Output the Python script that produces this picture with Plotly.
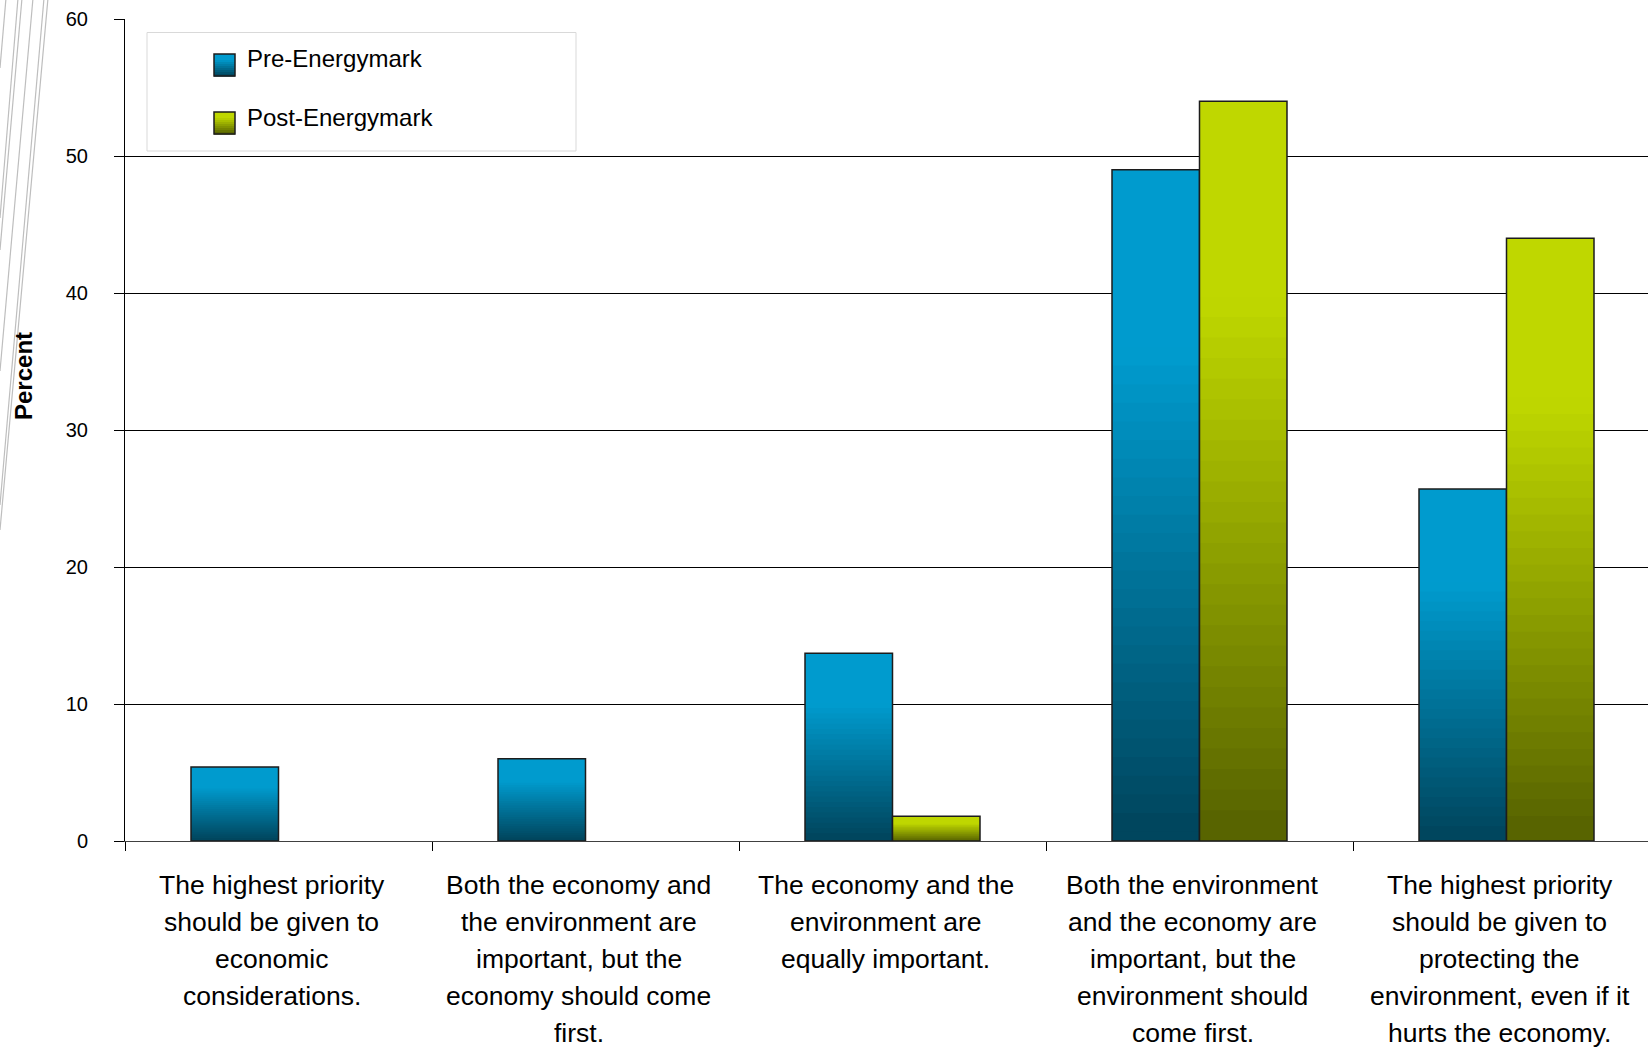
import plotly.graph_objects as go

# ---------------- data ----------------
categories = [
    "The highest priority<br>should be given to<br>economic<br>considerations.",
    "Both the economy and<br>the environment are<br>important, but the<br>economy should come<br>first.",
    "The economy and the<br>environment are<br>equally important.",
    "Both the environment<br>and the economy are<br>important, but the<br>environment should<br>come first.",
    "The highest priority<br>should be given to<br>protecting the<br>environment, even if it<br>hurts the economy.",
]
pre_values = [5.4, 6.0, 13.7, 49.0, 25.7]
post_values = [None, None, 1.8, 54.0, 44.0]
series_names = ["Pre-Energymark", "Post-Energymark"]
y_tick_values = [0, 10, 20, 30, 40, 50, 60]
y_axis_title = "Percent"

# ---------------- style ----------------
FONT = "Liberation Sans, Arial, sans-serif"
W, H = 1648, 1048
L, T = 125, 19
PW, PH = W - L, 841 - T
CAT_PX = 307.0
BLUE_TOP, BLUE_BOT = (0, 155, 206), (0, 70, 94)
GREEN_TOP, GREEN_BOT = (191, 215, 0), (88, 100, 0)
OUTLINE = "#1c1c1c"
N_SLICES = 36


def px_x(p):
    return (p - L) / PW


def px_y(p):
    return 1 - (p - T) / PH


def grad_color(top, bot, f):
    # f: fraction of bar height from bottom (0) to top (1)
    t = 1 - f
    t0, t1 = 0.26, 0.96
    u = min(max((t - t0) / (t1 - t0), 0), 1)
    c = [round(a + (b - a) * u) for a, b in zip(top, bot)]
    return f"rgb({c[0]},{c[1]},{c[2]})"


fig = go.Figure()

series = [
    (series_names[0], pre_values, BLUE_TOP, BLUE_BOT, "pre"),
    (series_names[1], post_values, GREEN_TOP, GREEN_BOT, "post"),
]

shapes = []
# legend box
shapes.append(dict(type="rect", xref="paper", yref="paper",
                   x0=px_x(147), x1=px_x(576), y0=px_y(151), y1=px_y(32.5),
                   line=dict(color="#D9D9D9", width=1), fillcolor="white", layer="below"))

legend_icon_tops = [54, 112]
for k, (name, vals, ctop, cbot, grp) in enumerate(series):
    # legend entry (its swatch is drawn as a gradient shape below)
    fig.add_trace(go.Bar(
        x=categories, y=vals, name=name, offsetgroup=grp, legendgroup=grp,
        marker=dict(color="rgba(0,0,0,0)", line=dict(width=0)),
        hoverinfo="skip",
    ))
    # solid under-fill so no seams show between gradient slices
    fig.add_trace(go.Bar(
        x=categories, y=vals, offsetgroup=grp, legendgroup=grp, showlegend=False,
        marker=dict(color=grad_color(ctop, cbot, 0.4), line=dict(width=0)),
        hoverinfo="skip",
    ))
    # gradient slices (each overlaps the one below by half a slice)
    for i in range(N_SLICES):
        f_mid = (i + 0.5) / N_SLICES
        bases = [None if v is None else max(0.0, v * (i - 0.5) / N_SLICES) for v in vals]
        heights = [None if v is None else v * (i + 1) / N_SLICES - b for v, b in zip(vals, bases)]
        fig.add_trace(go.Bar(
            x=categories, y=heights, base=bases,
            offsetgroup=grp, legendgroup=grp, showlegend=False,
            marker=dict(color=grad_color(ctop, cbot, f_mid), line=dict(width=0)),
            hoverinfo="skip",
        ))
    # outline on top
    fig.add_trace(go.Bar(
        x=categories, y=vals, offsetgroup=grp, legendgroup=grp, showlegend=False,
        marker=dict(color="rgba(0,0,0,0)", line=dict(color=OUTLINE, width=1.5)),
        hoverinfo="skip",
    ))
    # gradient legend swatch
    top = legend_icon_tops[k]
    n = 11
    for i in range(n):
        y0 = top + 22 * i / n
        y1 = top + 22 * (i + 1) / n
        shapes.append(dict(type="rect", xref="paper", yref="paper",
                           x0=px_x(214), x1=px_x(235), y0=px_y(y1 + 0.6), y1=px_y(y0),
                           line=dict(width=0), fillcolor=grad_color(ctop, cbot, 1 - (i + 0.5) / n)))
    shapes.append(dict(type="rect", xref="paper", yref="paper",
                       x0=px_x(214), x1=px_x(235), y0=px_y(top + 22), y1=px_y(top),
                       line=dict(color=OUTLINE, width=1.5), fillcolor="rgba(0,0,0,0)"))

# category labels, one annotation per line
annotations = []
for cat in categories:
    for j, line in enumerate(cat.split("<br>")):
        annotations.append(dict(
            x=cat, xref="x", y=0, yref="y", yshift=-(44 + 37 * j), xshift=-7,
            text=line, showarrow=False, xanchor="center", yanchor="middle",
            font=dict(family=FONT, size=26.5, color="#000000"),
        ))
# y-axis title
annotations.append(dict(
    x=px_x(23), xref="paper", y=px_y(376), yref="paper", text=y_axis_title,
    textangle=-90, showarrow=False, xanchor="center", yanchor="middle",
    font=dict(family=FONT, size=24, color="#000000", weight="bold"),
))

# decorative slide lines at top-left
for (xa, ya, xb, yb) in [(6, 0, 0, 68), (18, 0, 0, 218), (22, 0, 0, 250),
                         (33, 0, 0, 371), (44, 0, 0, 505), (48, 0, 0, 530)]:
    shapes.append(dict(type="line", xref="paper", yref="paper",
                       x0=px_x(xa), y0=px_y(ya - 2), x1=px_x(xb), y1=px_y(yb),
                       line=dict(color="#BEBEBE", width=1.2)))

fig.update_layout(
    width=W, height=H,
    margin=dict(l=L, r=0, t=T, b=H - 841, pad=0),
    paper_bgcolor="white", plot_bgcolor="white",
    barmode="group", bargap=0.43, bargroupgap=0,
    font=dict(family=FONT, color="#000000"),
    showlegend=True,
    legend=dict(
        x=px_x(207), y=px_y(36), xanchor="left", yanchor="top",
        bgcolor="rgba(0,0,0,0)", borderwidth=0,
        font=dict(family=FONT, size=24, color="#000000"),
        traceorder="grouped", tracegroupgap=24,
    ),
    annotations=annotations,
    shapes=shapes,
    hovermode=False,
)

fig.update_xaxes(
    type="category", categoryorder="array", categoryarray=categories,
    range=[-0.5, -0.5 + PW / CAT_PX],
    showticklabels=False, tickson="boundaries",
    ticks="outside", ticklen=9, tickcolor="#000000", tickwidth=1,
    showline=True, linecolor="#404040", linewidth=1,
    showgrid=False, zeroline=False,
)
fig.update_yaxes(
    range=[0, 60], tickvals=y_tick_values,
    ticks="outside", ticklen=10, tickcolor="#000000", tickwidth=1,
    tickfont=dict(family=FONT, size=20, color="#000000"),
    ticklabelstandoff=22,
    showline=True, linecolor="#000000", linewidth=1,
    showgrid=True, gridcolor="#000000", gridwidth=1,
    zeroline=False,
)

fig.write_html("out.html")
